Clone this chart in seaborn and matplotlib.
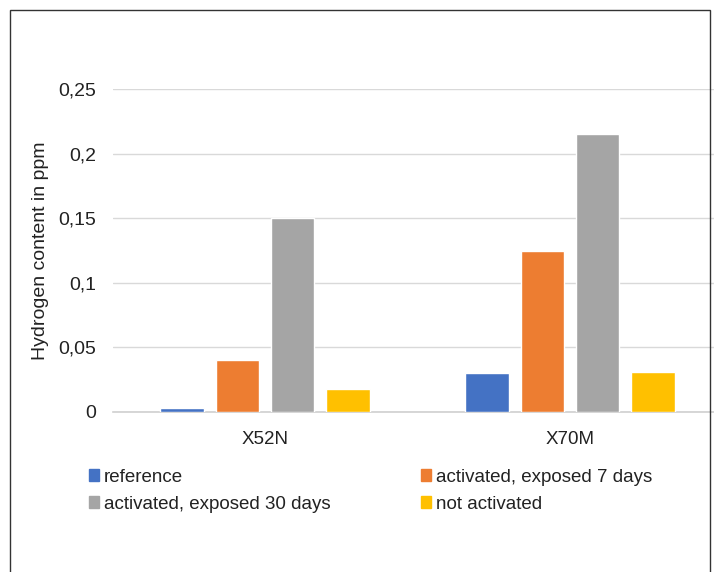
import matplotlib
matplotlib.use("Agg")
import matplotlib.pyplot as plt
import matplotlib.patches as mpatches
import seaborn as sns
import pandas as pd

# values
steels = ["X52N", "X70M"]
conditions = ["reference", "activated, exposed 7 days",
              "activated, exposed 30 days", "not activated"]
x52n_values = [0.003, 0.040, 0.150, 0.018]
x70m_values = [0.030, 0.125, 0.215, 0.031]
colors = ["#4472C4", "#ED7D31", "#A5A5A5", "#FFC000"]
y_ticks = [0, 0.05, 0.1, 0.15, 0.2, 0.25]
y_tick_labels = ["0", "0,05", "0,1", "0,15", "0,2", "0,25"]

rows = []
for steel, vals in zip(steels, [x52n_values, x70m_values]):
    for cond, v in zip(conditions, vals):
        rows.append({"Steel": steel, "Condition": cond, "H": v})
df = pd.DataFrame(rows)

sns.set_style("white")
plt.rcParams["font.family"] = ["Liberation Sans", "DejaVu Sans"]

fig = plt.figure(figsize=(7.14, 5.72), dpi=100)
ax = fig.add_axes([112.5 / 714, 1 - 412 / 572, 610 / 714, 323 / 572])

sns.barplot(data=df, x="Steel", y="H", hue="Condition", hue_order=conditions,
            palette=colors, width=0.725, gap=0.21, saturation=1,
            legend=False, ax=ax, zorder=3)

ax.set_ylim(0, 0.25)
ax.set_yticks(y_ticks)
ax.set_yticklabels(y_tick_labels)
ax.yaxis.grid(True, color="#d9d9d9", lw=1, zorder=0)
ax.set_axisbelow(True)
for s in ["left", "right", "top"]:
    ax.spines[s].set_visible(False)
ax.spines["bottom"].set_color("#d0d0d0")
ax.spines["bottom"].set_linewidth(1.2)
ax.tick_params(axis="y", length=0, pad=12, labelsize=14, labelcolor="#222222")
ax.tick_params(axis="x", length=0, pad=14, labelsize=13.5, labelcolor="#222222")
ax.set_xlabel("")
ax.set_ylabel("Hydrogen content in ppm", fontsize=14, color="#222222")
ax.yaxis.set_label_coords(-(112.5 - 41) / 610, 0.5)
ax.yaxis.label.set_va("center")

# legend, ordered so that two columns read like the original
order = [0, 2, 1, 3]
handles = [mpatches.Patch(color=colors[i], label=conditions[i]) for i in order]
fig.legend(handles=handles, loc="upper left", ncol=2,
           bbox_to_anchor=(81 / 714, 1 - 461 / 572), frameon=False,
           fontsize=13.5, handlelength=0.55, handleheight=0.6,
           handletextpad=0.25, columnspacing=4.85, labelspacing=0.55,
           labelcolor="#222222", borderaxespad=0)

# outer frame
fig.patches.append(mpatches.Rectangle((10 / 714, -0.05), 700 / 714, 1 - 10 / 572 + 0.05,
                                      transform=fig.transFigure, fill=False,
                                      edgecolor="#333333", lw=1))

fig.savefig("out.png", dpi=100)
